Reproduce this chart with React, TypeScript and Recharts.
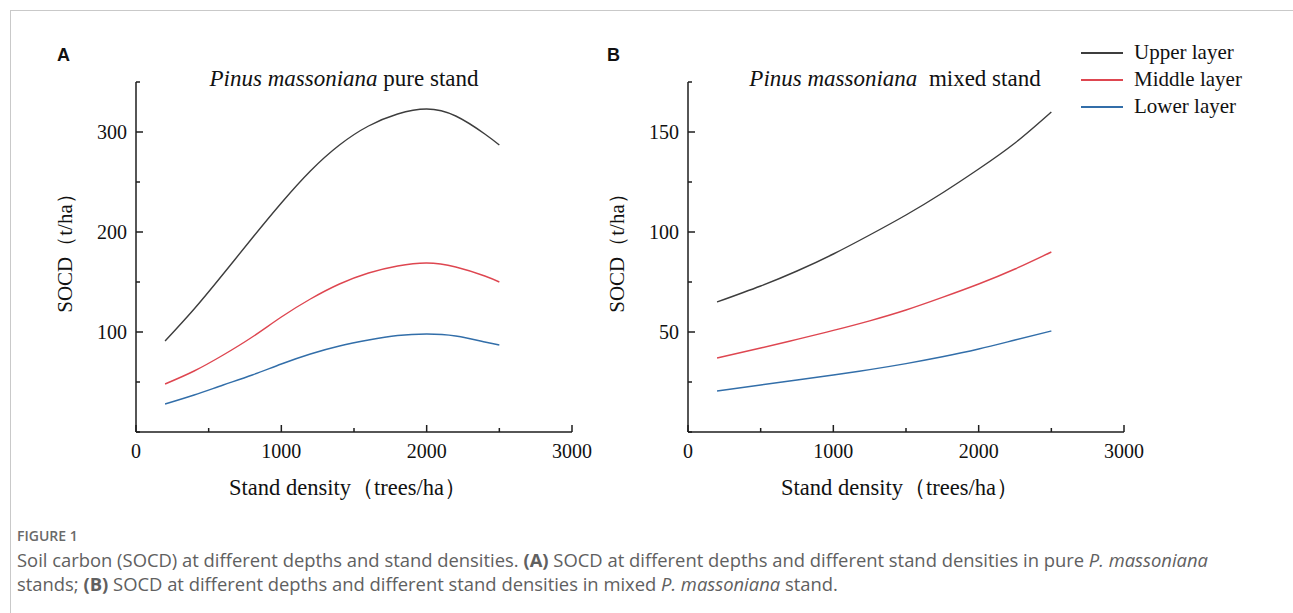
import { LineChart, Line, XAxis, YAxis, Legend } from 'recharts';

// stand density (trees/ha) sampled along each fitted curve
const densityA = [200, 400, 600, 800, 1000, 1200, 1400, 1600, 1800, 2000, 2200, 2400, 2500];
const upperA = [91, 123, 158, 194, 229, 261, 287, 306, 318, 323, 316, 298, 287];
const middleA = [48, 61, 77, 95, 115, 133, 148, 159, 166, 169, 165, 156, 150];
const lowerA = [28, 37, 47, 57, 68, 78, 86, 92, 96.5, 98, 96, 90, 87];

const densityB = [200, 500, 750, 1000, 1250, 1500, 1750, 2000, 2250, 2500];
const upperB = [65, 73, 80.5, 89, 98.5, 108.5, 119.5, 131.5, 144.5, 160];
const middleB = [37, 42, 46.3, 50.8, 55.6, 61, 67.3, 74, 81.5, 90];
const lowerB = [20.5, 23.5, 26, 28.5, 31.2, 34.2, 37.6, 41.5, 46, 50.5];

const xTicks = [0, 500, 1000, 1500, 2000, 2500, 3000];
const yTicksA = [0, 50, 100, 150, 200, 250, 300, 350];
const yLabelsA = [100, 200, 300];
const yTicksB = [0, 25, 50, 75, 100, 125, 150, 175];
const yLabelsB = [50, 100, 150];

const layers = [
    { key: 'upper', name: 'Upper layer', color: '#3d3d3d' },
    { key: 'middle', name: 'Middle layer', color: '#de4650' },
    { key: 'lower', name: 'Lower layer', color: '#326ea9' },
];

const rowsA = densityA.map((d, i) => ({ density: d, upper: upperA[i], middle: middleA[i], lower: lowerA[i] }));
const rowsB = densityB.map((d, i) => ({ density: d, upper: upperB[i], middle: middleB[i], lower: lowerB[i] }));

const SERIF = '"Liberation Serif", "Times New Roman", serif';
const SANS = '"Open Sans", "Noto Sans", sans-serif';
const AXIS = '#1e1e1e';

const XTick = ({ x, y, payload }: any) => {
    const major = payload.value % 1000 === 0;
    return (
        <g>
            <line x1={x} x2={x} y1={y} y2={y - (major ? 7 : 4)} stroke={AXIS} strokeWidth={1.5} />
            {major && (
                <text x={x} y={y + 19} textAnchor="middle" dominantBaseline="central" fontSize={20} fontFamily={SERIF} fill="#111">
                    {payload.value}
                </text>
            )}
        </g>
    );
};

const makeYTick = (labels: number[]) => ({ x, y, payload }: any) => {
    const major = labels.includes(payload.value);
    return (
        <g>
            <line x1={x} x2={x + (major ? 7 : 4)} y1={y} y2={y} stroke={AXIS} strokeWidth={1.5} />
            {major && (
                <text x={x - 9} y={y} textAnchor="end" dominantBaseline="central" fontSize={20} fontFamily={SERIF} fill="#111">
                    {payload.value}
                </text>
            )}
        </g>
    );
};

const xTitle = ({ viewBox }: any) => (
    <text x={viewBox.x + viewBox.width / 2 - 6} y={viewBox.y + 55} textAnchor="middle" dominantBaseline="central" fontSize={22.5} fontFamily={SERIF} fill="#111">
        Stand density（trees/ha）
    </text>
);

const yTitle = ({ viewBox }: any) => {
    const cx = viewBox.x + viewBox.width - 71;
    const cy = viewBox.y + viewBox.height / 2 - 9;
    return (
        <text x={cx} y={cy} transform={`rotate(-90 ${cx} ${cy})`} textAnchor="middle" dominantBaseline="central" fontSize={21} fontFamily={SERIF} fill="#111">
            SOCD（t/ha）
        </text>
    );
};

// keep legend rows in the series order (upper, middle, lower)
const renderLegend = ({ payload }: any) => {
    const items = layers.map((l) => payload.find((p: any) => p.dataKey === l.key) || { value: l.name, color: l.color });
    return (
        <div style={{ fontFamily: SERIF, fontSize: 21, color: '#111' }}>
            {items.map((entry: any) => (
                <div key={entry.value} style={{ display: 'flex', alignItems: 'center', height: 27 }}>
                    <svg width={42} height={4} style={{ marginRight: 11 }}>
                        <line x1={0} x2={42} y1={2} y2={2} stroke={entry.color} strokeWidth={2} />
                    </svg>
                    <span>{entry.value}</span>
                </div>
            ))}
        </div>
    );
};

function Panel({ rows, yMax, yTicks, yLabels, showLegend }: any) {
    return (
        <LineChart width={showLegend ? 741 : 600} height={520} data={rows}
            margin={{ top: 82, right: showLegend ? 169 : 28, left: 0, bottom: 0 }}>
            <XAxis dataKey="density" type="number" domain={[0, 3000]} ticks={xTicks} interval={0}
                height={88} tickSize={0} tickMargin={0} tickLine={false} tick={<XTick />}
                axisLine={{ stroke: AXIS, strokeWidth: 1.5 }} label={{ content: xTitle }} />
            <YAxis type="number" domain={[0, yMax]} ticks={yTicks} interval={0}
                width={136} tickSize={0} tickMargin={0} tickLine={false} tick={makeYTick(yLabels)}
                axisLine={{ stroke: AXIS, strokeWidth: 1.5 }} label={{ content: yTitle }} />
            {layers.map((l) => (
                <Line key={l.key} type="natural" dataKey={l.key} name={l.name} stroke={l.color}
                    strokeWidth={1.4} dot={false} activeDot={false} isAnimationActive={false} />
            ))}
            {showLegend && (
                <Legend layout="vertical" align="center" verticalAlign="middle" content={renderLegend}
                    wrapperStyle={{ left: 529, top: 39, width: 200 }} />
            )}
        </LineChart>
    );
}

const titleStyle: React.CSSProperties = {
    position: 'absolute', top: 65, fontFamily: SERIF, fontSize: 23, lineHeight: '28px',
    color: '#111', whiteSpace: 'nowrap', transform: 'translateX(-50%)',
};

const letterStyle: React.CSSProperties = {
    position: 'absolute', top: 44, fontFamily: '"Liberation Sans", Arial, sans-serif',
    fontWeight: 700, fontSize: 18, lineHeight: '22px', color: '#111',
};

export default function App() {
    return (
        <div style={{ position: 'absolute', left: 0, top: 0, width: 1293, height: 613, background: '#fff', overflow: 'hidden' }}>
            <div style={{ position: 'absolute', left: 10, top: 10, right: 0, bottom: 0, borderLeft: '1px solid #c9c9c9', borderTop: '1px solid #c9c9c9' }} />

            <div style={{ position: 'absolute', left: 0, top: 0 }}>
                <Panel rows={rowsA} yMax={350} yTicks={yTicksA} yLabels={yLabelsA} />
            </div>
            <div style={{ position: 'absolute', left: 552, top: 0 }}>
                <Panel rows={rowsB} yMax={175} yTicks={yTicksB} yLabels={yLabelsB} showLegend />
            </div>

            <div style={{ ...letterStyle, left: 57 }}>A</div>
            <div style={{ ...letterStyle, left: 607 }}>B</div>
            <div style={{ ...titleStyle, left: 344 }}><i>Pinus massoniana</i> pure stand</div>
            <div style={{ ...titleStyle, left: 895 }}><i>Pinus massoniana</i>&nbsp; mixed stand</div>

            <div style={{ position: 'absolute', left: 17, top: 527, fontFamily: SANS, fontSize: 14, fontWeight: 600, color: '#6a6a6a', lineHeight: '18px' }}>
                FIGURE 1
            </div>
            <div style={{ position: 'absolute', left: 17, top: 548, fontFamily: SANS, fontSize: 18.4, color: '#606060', lineHeight: '24px', whiteSpace: 'nowrap' }}>
                Soil carbon (SOCD) at different depths and stand densities. <b>(A)</b> SOCD at different depths and different stand densities in pure <i>P. massoniana</i>
                <br />
                stands; <b>(B)</b> SOCD at different depths and different stand densities in mixed <i>P. massoniana</i> stand.
            </div>
        </div>
    );
}
